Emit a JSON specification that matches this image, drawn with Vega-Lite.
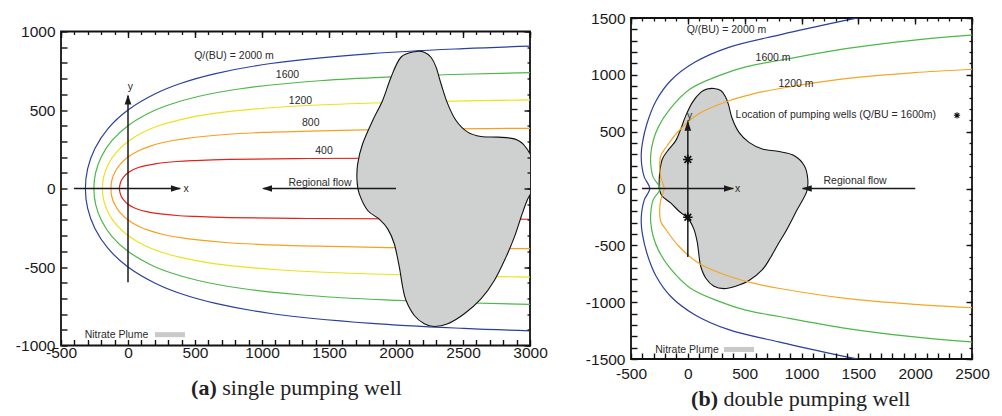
{
  "$schema": "https://vega.github.io/schema/vega-lite/v6.json",
  "background": "white",
  "padding": {"left": 14, "top": 10, "right": 0, "bottom": 0},
  "config": {"view": {"stroke": "#111", "strokeWidth": 1.8}, "axis": {"grid": false, "title": null}},
  "datasets": {
    "curvesA": [
      {"q":"2000","t":-2.9,"x":3790,"y":-923},{"q":"2000","t":-2.85,"x":3024,"y":-907},{"q":"2000","t":-2.8,"x":2507,"y":-891},{"q":"2000","t":-2.7,"x":1818,"y":-859},{"q":"2000","t":-2.5,"x":1065,"y":-796},{"q":"2000","t":-2.3,"x":654,"y":-732},{"q":"2000","t":-2.1,"x":391,"y":-669},{"q":"2000","t":-1.9,"x":207,"y":-605},{"q":"2000","t":-1.57,"x":0,"y":-500},{"q":"2000","t":-1.2,"x":-149,"y":-382},{"q":"2000","t":-0.8,"x":-247,"y":-255},{"q":"2000","t":-0.4,"x":-301,"y":-127},{"q":"2000","t":0,"x":-318,"y":0},{"q":"2000","t":0.4,"x":-301,"y":127},{"q":"2000","t":0.8,"x":-247,"y":255},{"q":"2000","t":1.2,"x":-149,"y":382},{"q":"2000","t":1.57,"x":0,"y":500},{"q":"2000","t":1.9,"x":207,"y":605},{"q":"2000","t":2.1,"x":391,"y":669},{"q":"2000","t":2.3,"x":654,"y":732},{"q":"2000","t":2.5,"x":1065,"y":796},{"q":"2000","t":2.7,"x":1818,"y":859},{"q":"2000","t":2.8,"x":2507,"y":891},{"q":"2000","t":2.85,"x":3024,"y":907},{"q":"2000","t":2.9,"x":3790,"y":923},
      {"q":"1600","t":-2.95,"x":3873,"y":-751},{"q":"1600","t":-2.9,"x":3032,"y":-739},{"q":"1600","t":-2.85,"x":2419,"y":-726},{"q":"1600","t":-2.8,"x":2006,"y":-713},{"q":"1600","t":-2.7,"x":1454,"y":-688},{"q":"1600","t":-2.5,"x":852,"y":-637},{"q":"1600","t":-2.3,"x":523,"y":-586},{"q":"1600","t":-2.1,"x":313,"y":-535},{"q":"1600","t":-1.9,"x":165,"y":-484},{"q":"1600","t":-1.57,"x":0,"y":-400},{"q":"1600","t":-1.2,"x":-119,"y":-306},{"q":"1600","t":-0.8,"x":-198,"y":-204},{"q":"1600","t":-0.4,"x":-241,"y":-102},{"q":"1600","t":0,"x":-255,"y":0},{"q":"1600","t":0.4,"x":-241,"y":102},{"q":"1600","t":0.8,"x":-198,"y":204},{"q":"1600","t":1.2,"x":-119,"y":306},{"q":"1600","t":1.57,"x":0,"y":400},{"q":"1600","t":1.9,"x":165,"y":484},{"q":"1600","t":2.1,"x":313,"y":535},{"q":"1600","t":2.3,"x":523,"y":586},{"q":"1600","t":2.5,"x":852,"y":637},{"q":"1600","t":2.7,"x":1454,"y":688},{"q":"1600","t":2.8,"x":2006,"y":713},{"q":"1600","t":2.85,"x":2419,"y":726},{"q":"1600","t":2.9,"x":3032,"y":739},{"q":"1600","t":2.95,"x":3873,"y":751},
      {"q":"1200","t":-3.0,"x":4020,"y":-573},{"q":"1200","t":-2.95,"x":2905,"y":-563},{"q":"1200","t":-2.9,"x":2274,"y":-554},{"q":"1200","t":-2.8,"x":1504,"y":-535},{"q":"1200","t":-2.7,"x":1091,"y":-516},{"q":"1200","t":-2.5,"x":639,"y":-478},{"q":"1200","t":-2.3,"x":393,"y":-439},{"q":"1200","t":-2.1,"x":235,"y":-401},{"q":"1200","t":-1.9,"x":124,"y":-363},{"q":"1200","t":-1.57,"x":0,"y":-300},{"q":"1200","t":-1.2,"x":-89,"y":-229},{"q":"1200","t":-0.8,"x":-148,"y":-153},{"q":"1200","t":-0.4,"x":-181,"y":-76},{"q":"1200","t":0,"x":-191,"y":0},{"q":"1200","t":0.4,"x":-181,"y":76},{"q":"1200","t":0.8,"x":-148,"y":153},{"q":"1200","t":1.2,"x":-89,"y":229},{"q":"1200","t":1.57,"x":0,"y":300},{"q":"1200","t":1.9,"x":124,"y":363},{"q":"1200","t":2.1,"x":235,"y":401},{"q":"1200","t":2.3,"x":393,"y":439},{"q":"1200","t":2.5,"x":639,"y":478},{"q":"1200","t":2.7,"x":1091,"y":516},{"q":"1200","t":2.8,"x":1504,"y":535},{"q":"1200","t":2.9,"x":2274,"y":554},{"q":"1200","t":2.95,"x":2905,"y":563},{"q":"1200","t":3.0,"x":4020,"y":573},
      {"q":"800","t":-3.05,"x":4228,"y":-388},{"q":"800","t":-3.0,"x":2680,"y":-382},{"q":"800","t":-2.95,"x":1937,"y":-376},{"q":"800","t":-2.9,"x":1516,"y":-369},{"q":"800","t":-2.8,"x":1003,"y":-357},{"q":"800","t":-2.7,"x":727,"y":-344},{"q":"800","t":-2.5,"x":426,"y":-318},{"q":"800","t":-2.3,"x":262,"y":-293},{"q":"800","t":-2.1,"x":156,"y":-267},{"q":"800","t":-1.9,"x":83,"y":-242},{"q":"800","t":-1.57,"x":0,"y":-200},{"q":"800","t":-1.2,"x":-59,"y":-153},{"q":"800","t":-0.8,"x":-99,"y":-102},{"q":"800","t":-0.4,"x":-121,"y":-51},{"q":"800","t":0,"x":-127,"y":0},{"q":"800","t":0.4,"x":-121,"y":51},{"q":"800","t":0.8,"x":-99,"y":102},{"q":"800","t":1.2,"x":-59,"y":153},{"q":"800","t":1.57,"x":0,"y":200},{"q":"800","t":1.9,"x":83,"y":242},{"q":"800","t":2.1,"x":156,"y":267},{"q":"800","t":2.3,"x":262,"y":293},{"q":"800","t":2.5,"x":426,"y":318},{"q":"800","t":2.7,"x":727,"y":344},{"q":"800","t":2.8,"x":1003,"y":357},{"q":"800","t":2.9,"x":1516,"y":369},{"q":"800","t":2.95,"x":1937,"y":376},{"q":"800","t":3.0,"x":2680,"y":382},{"q":"800","t":3.05,"x":4228,"y":388},
      {"q":"400","t":-3.08,"x":3179,"y":-196},{"q":"400","t":-3.05,"x":2114,"y":-194},{"q":"400","t":-3.0,"x":1340,"y":-191},{"q":"400","t":-2.9,"x":758,"y":-185},{"q":"400","t":-2.8,"x":501,"y":-178},{"q":"400","t":-2.7,"x":364,"y":-172},{"q":"400","t":-2.5,"x":213,"y":-159},{"q":"400","t":-2.3,"x":131,"y":-146},{"q":"400","t":-2.1,"x":78,"y":-134},{"q":"400","t":-1.9,"x":41,"y":-121},{"q":"400","t":-1.57,"x":0,"y":-100},{"q":"400","t":-1.2,"x":-30,"y":-76},{"q":"400","t":-0.8,"x":-50,"y":-51},{"q":"400","t":-0.4,"x":-60,"y":-25},{"q":"400","t":0,"x":-64,"y":0},{"q":"400","t":0.4,"x":-60,"y":25},{"q":"400","t":0.8,"x":-50,"y":51},{"q":"400","t":1.2,"x":-30,"y":76},{"q":"400","t":1.57,"x":0,"y":100},{"q":"400","t":1.9,"x":41,"y":121},{"q":"400","t":2.1,"x":78,"y":134},{"q":"400","t":2.3,"x":131,"y":146},{"q":"400","t":2.5,"x":213,"y":159},{"q":"400","t":2.7,"x":364,"y":172},{"q":"400","t":2.8,"x":501,"y":178},{"q":"400","t":2.9,"x":758,"y":185},{"q":"400","t":3.0,"x":1340,"y":191},{"q":"400","t":3.05,"x":2114,"y":194},{"q":"400","t":3.08,"x":3179,"y":196}
    ],
    "curvesB": [
      {"q":"2000","t":-14,"x":2600,"y":-1650},{"q":"2000","t":-13,"x":2000,"y":-1580},{"q":"2000","t":-12,"x":1465,"y":-1495},{"q":"2000","t":-11,"x":1000,"y":-1395},{"q":"2000","t":-10,"x":800,"y":-1350},{"q":"2000","t":-9,"x":360,"y":-1242},{"q":"2000","t":-8,"x":60,"y":-1110},{"q":"2000","t":-7,"x":-150,"y":-950},{"q":"2000","t":-6,"x":-280,"y":-770},{"q":"2000","t":-5,"x":-360,"y":-570},{"q":"2000","t":-4,"x":-400,"y":-400},{"q":"2000","t":-3,"x":-410,"y":-300},{"q":"2000","t":-2,"x":-405,"y":-200},{"q":"2000","t":-1,"x":-383,"y":-100},{"q":"2000","t":0,"x":-335,"y":0},{"q":"2000","t":1,"x":-383,"y":100},{"q":"2000","t":2,"x":-405,"y":200},{"q":"2000","t":3,"x":-410,"y":300},{"q":"2000","t":4,"x":-400,"y":400},{"q":"2000","t":5,"x":-360,"y":570},{"q":"2000","t":6,"x":-280,"y":770},{"q":"2000","t":7,"x":-150,"y":950},{"q":"2000","t":8,"x":60,"y":1110},{"q":"2000","t":9,"x":360,"y":1242},{"q":"2000","t":10,"x":800,"y":1350},{"q":"2000","t":11,"x":1000,"y":1395},{"q":"2000","t":12,"x":1465,"y":1495},{"q":"2000","t":13,"x":2000,"y":1580},{"q":"2000","t":14,"x":2600,"y":1650},
      {"q":"1600","t":-14,"x":2800,"y":-1370},{"q":"1600","t":-13,"x":2491,"y":-1350},{"q":"1600","t":-12,"x":1993,"y":-1306},{"q":"1600","t":-11,"x":1406,"y":-1232},{"q":"1600","t":-10,"x":802,"y":-1126},{"q":"1600","t":-9,"x":509,"y":-1070},{"q":"1600","t":-8,"x":280,"y":-995},{"q":"1600","t":-7,"x":20,"y":-875},{"q":"1600","t":-6,"x":-165,"y":-690},{"q":"1600","t":-5,"x":-260,"y":-540},{"q":"1600","t":-4,"x":-305,"y":-420},{"q":"1600","t":-3,"x":-326,"y":-300},{"q":"1600","t":-2,"x":-325,"y":-200},{"q":"1600","t":-1,"x":-305,"y":-100},{"q":"1600","t":0,"x":-245,"y":0},{"q":"1600","t":1,"x":-305,"y":100},{"q":"1600","t":2,"x":-325,"y":200},{"q":"1600","t":3,"x":-326,"y":300},{"q":"1600","t":4,"x":-305,"y":420},{"q":"1600","t":5,"x":-260,"y":540},{"q":"1600","t":6,"x":-165,"y":690},{"q":"1600","t":7,"x":20,"y":875},{"q":"1600","t":8,"x":280,"y":995},{"q":"1600","t":9,"x":509,"y":1070},{"q":"1600","t":10,"x":802,"y":1126},{"q":"1600","t":11,"x":1406,"y":1232},{"q":"1600","t":12,"x":1993,"y":1306},{"q":"1600","t":13,"x":2491,"y":1350},{"q":"1600","t":14,"x":2800,"y":1370},
      {"q":"1200","t":-13,"x":2800,"y":-1062},{"q":"1200","t":-12,"x":2491,"y":-1048},{"q":"1200","t":-11,"x":1993,"y":-1019},{"q":"1200","t":-10,"x":1406,"y":-969},{"q":"1200","t":-9,"x":810,"y":-880},{"q":"1200","t":-8,"x":568,"y":-831},{"q":"1200","t":-7,"x":362,"y":-772},{"q":"1200","t":-6,"x":100,"y":-660},{"q":"1200","t":-5,"x":-77,"y":-510},{"q":"1200","t":-4,"x":-190,"y":-365},{"q":"1200","t":-3,"x":-238,"y":-290},{"q":"1200","t":-2,"x":-248,"y":-200},{"q":"1200","t":-1,"x":-238,"y":-100},{"q":"1200","t":0,"x":-209,"y":0},{"q":"1200","t":1,"x":-238,"y":100},{"q":"1200","t":2,"x":-248,"y":200},{"q":"1200","t":3,"x":-238,"y":290},{"q":"1200","t":4,"x":-190,"y":365},{"q":"1200","t":5,"x":-77,"y":510},{"q":"1200","t":6,"x":100,"y":660},{"q":"1200","t":7,"x":362,"y":772},{"q":"1200","t":8,"x":568,"y":831},{"q":"1200","t":9,"x":810,"y":880},{"q":"1200","t":10,"x":1406,"y":969},{"q":"1200","t":11,"x":1993,"y":1019},{"q":"1200","t":12,"x":2491,"y":1048},{"q":"1200","t":13,"x":2800,"y":1062}
    ],
    "plumeA": [
      {"i":1,"x":2149,"y":873},{"i":2,"x":2037,"y":836},{"i":3,"x":1963,"y":709},{"i":4,"x":1900,"y":561},{"i":5,"x":1826,"y":433},{"i":6,"x":1751,"y":285},{"i":7,"x":1714,"y":157},{"i":8,"x":1709,"y":51},{"i":9,"x":1726,"y":-34},{"i":10,"x":1789,"y":-140},{"i":11,"x":1875,"y":-195},{"i":12,"x":1938,"y":-257},{"i":13,"x":1987,"y":-352},{"i":14,"x":2025,"y":-501},{"i":15,"x":2050,"y":-629},{"i":16,"x":2075,"y":-713},{"i":17,"x":2137,"y":-809},{"i":18,"x":2211,"y":-862},{"i":19,"x":2286,"y":-879},{"i":20,"x":2386,"y":-862},{"i":21,"x":2510,"y":-798},{"i":22,"x":2634,"y":-703},{"i":23,"x":2734,"y":-586},{"i":24,"x":2821,"y":-437},{"i":25,"x":2883,"y":-310},{"i":26,"x":2933,"y":-183},{"i":27,"x":2978,"y":-76},{"i":28,"x":3035,"y":30},{"i":29,"x":3025,"y":170},{"i":30,"x":2958,"y":274},{"i":31,"x":2883,"y":316},{"i":32,"x":2759,"y":327},{"i":33,"x":2634,"y":331},{"i":34,"x":2535,"y":359},{"i":35,"x":2448,"y":433},{"i":36,"x":2386,"y":539},{"i":37,"x":2336,"y":667},{"i":38,"x":2299,"y":773},{"i":39,"x":2261,"y":836},{"i":40,"x":2211,"y":868}
    ],
    "plumeB": [
      {"i":1,"x":230,"y":880},{"i":2,"x":290,"y":862},{"i":3,"x":330,"y":810},{"i":4,"x":357,"y":740},{"i":5,"x":392,"y":611},{"i":6,"x":450,"y":494},{"i":7,"x":538,"y":406},{"i":8,"x":656,"y":348},{"i":9,"x":802,"y":325},{"i":10,"x":937,"y":289},{"i":11,"x":1025,"y":201},{"i":12,"x":1055,"y":84},{"i":13,"x":1045,"y":-30},{"i":14,"x":960,"y":-190},{"i":15,"x":870,"y":-362},{"i":16,"x":800,"y":-480},{"i":17,"x":732,"y":-600},{"i":18,"x":656,"y":-714},{"i":19,"x":538,"y":-810},{"i":20,"x":421,"y":-860},{"i":21,"x":318,"y":-881},{"i":22,"x":230,"y":-860},{"i":23,"x":157,"y":-787},{"i":24,"x":113,"y":-684},{"i":25,"x":99,"y":-596},{"i":26,"x":84,"y":-479},{"i":27,"x":55,"y":-362},{"i":28,"x":11,"y":-274},{"i":29,"x":-18,"y":-245},{"i":30,"x":-77,"y":-200},{"i":31,"x":-151,"y":-127},{"i":32,"x":-224,"y":-69},{"i":33,"x":-250,"y":-10},{"i":34,"x":-253,"y":40},{"i":35,"x":-247,"y":143},{"i":36,"x":-224,"y":260},{"i":37,"x":-165,"y":348},{"i":38,"x":-106,"y":421},{"i":39,"x":-62,"y":524},{"i":40,"x":-18,"y":641},{"i":41,"x":40,"y":758},{"i":42,"x":113,"y":846},{"i":43,"x":170,"y":875}
    ],
    "arrowsA": [{"x":-403,"x2":390,"y":0,"y2":0},{"x":0,"x2":0,"y":-597,"y2":590},{"x":2000,"x2":1010,"y":0,"y2":0}],
    "headsA": [{"dir":"r","x":395,"y":0},{"dir":"u","x":0,"y":599},{"dir":"l","x":1000,"y":0}],
    "arrowsB": [{"x":-403,"x2":400,"y":0,"y2":0},{"x":0,"x2":0,"y":-603,"y2":590},{"x":2001,"x2":1010,"y":0,"y2":0}],
    "headsB": [{"dir":"r","x":406,"y":0},{"dir":"u","x":0,"y":597},{"dir":"l","x":1002,"y":0}],
    "wellsB": [{"dir":"well","x":0,"y":255},{"dir":"well","x":0,"y":-253},{"dir":"key","x":2368,"y":644}],
    "textA": [
      {"label":"Q/(BU) = 2000 m","x":791,"y":847},{"label":"1600","x":1190,"y":720},{"label":"1200","x":1287,"y":559},{"label":"800","x":1364,"y":420},{"label":"400","x":1463,"y":240},{"label":"Regional flow","x":1433,"y":34},{"label":"x","x":433,"y":-3},{"label":"y","x":17,"y":645},{"label":"Nitrate Plume","x":-86,"y":-934}
    ],
    "textB": [
      {"label":"Q/(BU) = 2000 m","x":340,"y":1398},{"label":"1600 m","x":750,"y":1145},{"label":"1200 m","x":952,"y":923},{"label":"Location of pumping wells (Q/BU = 1600m)","x":1302,"y":644},{"label":"Regional flow","x":1471,"y":69},{"label":"x","x":439,"y":-7},{"label":"y","x":16,"y":642},{"label":"Nitrate Plume","x":-7,"y":-1417}
    ],
    "swatchA": [{"x":201,"x2":425,"y":-915,"y2":-947}],
    "swatchB": [{"x":318,"x2":582,"y":-1394,"y2":-1438}],
    "capA": [{"part":"bold","label":"(a)","x":662,"y":-1318},{"part":"plain","label":"single pumping well","x":662,"y":-1318}],
    "capB": [{"part":"bold","label":"(b)","x":265,"y":-1913},{"part":"plain","label":"double pumping well","x":265,"y":-1913}]
  },
  "spacing": 101,
  "bounds": "flush",
  "center": true,
  "resolve": {"scale": {"x": "independent", "y": "independent", "color": "independent", "shape": "independent", "size": "independent", "strokeWidth": "independent"}},
  "hconcat": [
    {
      "width": 469,
      "height": 314,
      "resolve": {"axis": {"x": "independent", "y": "independent"}},
      "layer": [
        {
          "data": {"name": "curvesA"},
          "mark": {"type": "line", "clip": true, "strokeWidth": 1.2, "interpolate": "catmull-rom"},
          "encoding": {
            "x": {"field": "x", "type": "quantitative", "scale": {"domain": [-500, 3000], "nice": false, "zero": false},
              "axis": {"orient": "bottom", "values": [-500,-400,-300,-200,-100,0,100,200,300,400,500,600,700,800,900,1000,1100,1200,1300,1400,1500,1600,1700,1800,1900,2000,2100,2200,2300,2400,2500,2600,2700,2800,2900,3000], "offset": -6, "ticks": true, "tickSize": 6, "tickWidth": 1.4, "tickColor": "#111", "domain": false, "labelFont": "Liberation Sans", "labelFontSize": 15.5, "labelColor": "#1a1a1a", "labelPadding": 0, "labelFlush": false, "labelOverlap": false, "labelExpr": "datum.value % 500 === 0 ? '' + datum.value : ''", "zindex": 1,
                "encoding": {"ticks": {"update": {"y": {"signal": "datum.value % 500 === 0 ? 0 : 3"}}}}}},
            "y": {"field": "y", "type": "quantitative", "scale": {"domain": [-1000, 1000], "nice": false, "zero": false},
              "axis": {"orient": "left", "values": [-1000,-900,-800,-700,-600,-500,-400,-300,-200,-100,0,100,200,300,400,500,600,700,800,900,1000], "offset": -6, "ticks": true, "tickSize": 6, "tickWidth": 1.4, "tickColor": "#111", "domain": false, "labelFont": "Liberation Sans", "labelFontSize": 15.5, "labelColor": "#1a1a1a", "labelPadding": 6, "labelFlush": false, "labelOverlap": false, "labelExpr": "datum.value % 500 === 0 ? '' + datum.value : ''", "zindex": 1,
                "encoding": {"ticks": {"update": {"x": {"signal": "datum.value % 500 === 0 ? 0 : -3"}}}}}},
            "color": {"field": "q", "type": "nominal", "scale": {"domain": ["2000","1600","1200","800","400"], "range": ["#2b3f9e","#4db848","#ece21c","#f6a01c","#e2231a"]}, "legend": null},
            "order": {"field": "t", "type": "quantitative"}
          }
        },
        {
          "data": {"name": "plumeA"},
          "mark": {"type": "line", "clip": true, "interpolate": "cardinal-closed", "fill": "#cfd0d0", "stroke": "#111", "strokeWidth": 1.1},
          "encoding": {
            "x": {"field": "x", "type": "quantitative", "scale": {"domain": [-500, 3000], "nice": false, "zero": false},
              "axis": {"orient": "top", "values": [-500,0,500,1000,1500,2000,2500,3000], "labels": true, "labelExpr": "''", "labelOpacity": 0, "labelFontSize": 1, "domain": false, "ticks": true, "offset": -6, "tickSize": 6, "tickWidth": 1.4, "tickColor": "#111", "zindex": 1}},
            "y": {"field": "y", "type": "quantitative", "scale": {"domain": [-1000, 1000], "nice": false, "zero": false},
              "axis": {"orient": "right", "values": [-1000,-500,0,500,1000], "labels": true, "labelExpr": "''", "labelOpacity": 0, "labelFontSize": 1, "domain": false, "ticks": true, "offset": -6, "tickSize": 6, "tickWidth": 1.4, "tickColor": "#111", "zindex": 1}},
            "order": {"field": "i", "type": "quantitative"}
          }
        },
        {
          "data": {"name": "arrowsA"},
          "mark": {"type": "rule", "color": "#1a1a1a", "strokeWidth": 1.5},
          "encoding": {
            "x": {"field": "x", "type": "quantitative", "scale": {"domain": [-500, 3000], "nice": false, "zero": false}, "axis": null},
            "x2": {"field": "x2"},
            "y": {"field": "y", "type": "quantitative", "scale": {"domain": [-1000, 1000], "nice": false, "zero": false}, "axis": null},
            "y2": {"field": "y2"}
          }
        },
        {
          "data": {"name": "headsA"},
          "mark": {"type": "point", "filled": true, "color": "#1a1a1a", "size": 100, "opacity": 1},
          "encoding": {
            "x": {"field": "x", "type": "quantitative", "scale": {"domain": [-500, 3000], "nice": false, "zero": false},
              "axis": {"orient": "top", "values": [-500,-400,-300,-200,-100,0,100,200,300,400,500,600,700,800,900,1000,1100,1200,1300,1400,1500,1600,1700,1800,1900,2000,2100,2200,2300,2400,2500,2600,2700,2800,2900,3000], "labels": true, "labelExpr": "''", "labelOpacity": 0, "labelFontSize": 1, "domain": false, "ticks": true, "offset": -3, "tickSize": 3, "tickWidth": 1.3, "tickColor": "#111", "zindex": 1}},
            "y": {"field": "y", "type": "quantitative", "scale": {"domain": [-1000, 1000], "nice": false, "zero": false},
              "axis": {"orient": "right", "values": [-1000,-900,-800,-700,-600,-500,-400,-300,-200,-100,0,100,200,300,400,500,600,700,800,900,1000], "labels": true, "labelExpr": "''", "labelOpacity": 0, "labelFontSize": 1, "domain": false, "ticks": true, "offset": -3, "tickSize": 3, "tickWidth": 1.3, "tickColor": "#111", "zindex": 1}},
            "shape": {"field": "dir", "type": "nominal", "scale": {"domain": ["r","l","u"], "range": ["M0,0L-2,-0.67L-2,0.67Z","M0,0L2,-0.67L2,0.67Z","M0,0L-0.67,2L0.67,2Z"]}, "legend": null}
          }
        },
        {
          "data": {"name": "textA"},
          "mark": {"type": "text", "font": "Liberation Sans", "fontSize": 10.5, "color": "#2a2a2a", "align": "center", "baseline": "middle"},
          "encoding": {
            "x": {"field": "x", "type": "quantitative", "scale": {"domain": [-500, 3000], "nice": false, "zero": false}, "axis": null},
            "y": {"field": "y", "type": "quantitative", "scale": {"domain": [-1000, 1000], "nice": false, "zero": false}, "axis": null},
            "text": {"field": "label"}
          }
        },
        {
          "data": {"name": "swatchA"},
          "mark": {"type": "rect", "color": "#c9c9c9"},
          "encoding": {
            "x": {"field": "x", "type": "quantitative", "scale": {"domain": [-500, 3000], "nice": false, "zero": false}, "axis": null},
            "x2": {"field": "x2"},
            "y": {"field": "y", "type": "quantitative", "scale": {"domain": [-1000, 1000], "nice": false, "zero": false}, "axis": null},
            "y2": {"field": "y2"}
          }
        },
        {
          "data": {"name": "capA"},
          "transform": [{"filter": "datum.part === 'bold'"}],
          "mark": {"type": "text", "font": "Liberation Serif", "fontSize": 22, "fontWeight": "bold", "color": "#222", "align": "right", "baseline": "alphabetic"},
          "encoding": {
            "x": {"field": "x", "type": "quantitative", "scale": {"domain": [-500, 3000], "nice": false, "zero": false}, "axis": null},
            "y": {"field": "y", "type": "quantitative", "scale": {"domain": [-1000, 1000], "nice": false, "zero": false}, "axis": null},
            "text": {"field": "label"}
          }
        },
        {
          "data": {"name": "capA"},
          "transform": [{"filter": "datum.part === 'plain'"}],
          "mark": {"type": "text", "font": "Liberation Serif", "fontSize": 22, "color": "#222", "align": "left", "baseline": "alphabetic", "dx": 5.5},
          "encoding": {
            "x": {"field": "x", "type": "quantitative", "scale": {"domain": [-500, 3000], "nice": false, "zero": false}, "axis": null},
            "y": {"field": "y", "type": "quantitative", "scale": {"domain": [-1000, 1000], "nice": false, "zero": false}, "axis": null},
            "text": {"field": "label"}
          }
        }
      ]
    },
    {
      "width": 341,
      "height": 341,
      "resolve": {"axis": {"x": "independent", "y": "independent"}},
      "layer": [
        {
          "data": {"name": "plumeB"},
          "mark": {"type": "line", "clip": true, "interpolate": "cardinal-closed", "fill": "#cfd0d0", "stroke": "#111", "strokeWidth": 1.1},
          "encoding": {
            "x": {"field": "x", "type": "quantitative", "scale": {"domain": [-500, 2500], "nice": false, "zero": false},
              "axis": {"orient": "bottom", "values": [-500,-400,-300,-200,-100,0,100,200,300,400,500,600,700,800,900,1000,1100,1200,1300,1400,1500,1600,1700,1800,1900,2000,2100,2200,2300,2400,2500], "offset": -6, "ticks": true, "tickSize": 6, "tickWidth": 1.4, "tickColor": "#111", "domain": false, "labelFont": "Liberation Sans", "labelFontSize": 15.5, "labelColor": "#1a1a1a", "labelPadding": 7, "labelFlush": false, "labelOverlap": false, "labelExpr": "datum.value % 500 === 0 ? '' + datum.value : ''", "zindex": 1,
                "encoding": {"ticks": {"update": {"y": {"signal": "datum.value % 500 === 0 ? 0 : 3"}}}}}},
            "y": {"field": "y", "type": "quantitative", "scale": {"domain": [-1500, 1500], "nice": false, "zero": false},
              "axis": {"orient": "left", "values": [-1500,-1400,-1300,-1200,-1100,-1000,-900,-800,-700,-600,-500,-400,-300,-200,-100,0,100,200,300,400,500,600,700,800,900,1000,1100,1200,1300,1400,1500], "offset": -6, "ticks": true, "tickSize": 6, "tickWidth": 1.4, "tickColor": "#111", "domain": false, "labelFont": "Liberation Sans", "labelFontSize": 15.5, "labelColor": "#1a1a1a", "labelPadding": 6, "labelFlush": false, "labelOverlap": false, "labelExpr": "datum.value % 500 === 0 ? '' + datum.value : ''", "zindex": 1,
                "encoding": {"ticks": {"update": {"x": {"signal": "datum.value % 500 === 0 ? 0 : -3"}}}}}},
            "order": {"field": "i", "type": "quantitative"}
          }
        },
        {
          "data": {"name": "curvesB"},
          "mark": {"type": "line", "clip": true, "strokeWidth": 1.2, "interpolate": "catmull-rom"},
          "encoding": {
            "x": {"field": "x", "type": "quantitative", "scale": {"domain": [-500, 2500], "nice": false, "zero": false},
              "axis": {"orient": "top", "values": [-500,0,500,1000,1500,2000,2500], "labels": true, "labelExpr": "''", "labelOpacity": 0, "labelFontSize": 1, "domain": false, "ticks": true, "offset": -6, "tickSize": 6, "tickWidth": 1.4, "tickColor": "#111", "zindex": 1}},
            "y": {"field": "y", "type": "quantitative", "scale": {"domain": [-1500, 1500], "nice": false, "zero": false},
              "axis": {"orient": "right", "values": [-1500,-1000,-500,0,500,1000,1500], "labels": true, "labelExpr": "''", "labelOpacity": 0, "labelFontSize": 1, "domain": false, "ticks": true, "offset": -6, "tickSize": 6, "tickWidth": 1.4, "tickColor": "#111", "zindex": 1}},
            "color": {"field": "q", "type": "nominal", "scale": {"domain": ["2000","1600","1200"], "range": ["#2b3f9e","#4db848","#f6a623"]}, "legend": null},
            "order": {"field": "t", "type": "quantitative"}
          }
        },
        {
          "data": {"name": "arrowsB"},
          "mark": {"type": "rule", "color": "#1a1a1a", "strokeWidth": 1.5},
          "encoding": {
            "x": {"field": "x", "type": "quantitative", "scale": {"domain": [-500, 2500], "nice": false, "zero": false}, "axis": null},
            "x2": {"field": "x2"},
            "y": {"field": "y", "type": "quantitative", "scale": {"domain": [-1500, 1500], "nice": false, "zero": false}, "axis": null},
            "y2": {"field": "y2"}
          }
        },
        {
          "data": {"name": "headsB"},
          "mark": {"type": "point", "filled": true, "color": "#1a1a1a", "size": 100, "opacity": 1},
          "encoding": {
            "x": {"field": "x", "type": "quantitative", "scale": {"domain": [-500, 2500], "nice": false, "zero": false},
              "axis": {"orient": "top", "values": [-500,-400,-300,-200,-100,0,100,200,300,400,500,600,700,800,900,1000,1100,1200,1300,1400,1500,1600,1700,1800,1900,2000,2100,2200,2300,2400,2500], "labels": true, "labelExpr": "''", "labelOpacity": 0, "labelFontSize": 1, "domain": false, "ticks": true, "offset": -3, "tickSize": 3, "tickWidth": 1.3, "tickColor": "#111", "zindex": 1}},
            "y": {"field": "y", "type": "quantitative", "scale": {"domain": [-1500, 1500], "nice": false, "zero": false},
              "axis": {"orient": "right", "values": [-1500,-1400,-1300,-1200,-1100,-1000,-900,-800,-700,-600,-500,-400,-300,-200,-100,0,100,200,300,400,500,600,700,800,900,1000,1100,1200,1300,1400,1500], "labels": true, "labelExpr": "''", "labelOpacity": 0, "labelFontSize": 1, "domain": false, "ticks": true, "offset": -3, "tickSize": 3, "tickWidth": 1.3, "tickColor": "#111", "zindex": 1}},
            "shape": {"field": "dir", "type": "nominal", "scale": {"domain": ["r","l","u","well","key"], "range": ["M0,0L-2,-0.67L-2,0.67Z","M0,0L2,-0.67L2,0.67Z","M0,0L-0.67,2L0.67,2Z","M-1,0L1,0M0,-1L0,1M-0.71,-0.71L0.71,0.71M-0.71,0.71L0.71,-0.71","M-1,0L1,0M0,-1L0,1M-0.71,-0.71L0.71,0.71M-0.71,0.71L0.71,-0.71"]}, "legend": null}
          }
        },
        {
          "data": {"name": "textB"},
          "mark": {"type": "text", "font": "Liberation Sans", "fontSize": 10.5, "color": "#2a2a2a", "align": "center", "baseline": "middle"},
          "encoding": {
            "x": {"field": "x", "type": "quantitative", "scale": {"domain": [-500, 2500], "nice": false, "zero": false}, "axis": null},
            "y": {"field": "y", "type": "quantitative", "scale": {"domain": [-1500, 1500], "nice": false, "zero": false}, "axis": null},
            "text": {"field": "label"}
          }
        },
        {
          "data": {"name": "wellsB"},
          "mark": {"type": "point", "filled": false, "color": "#111", "opacity": 1},
          "encoding": {
            "x": {"field": "x", "type": "quantitative", "scale": {"domain": [-500, 2500], "nice": false, "zero": false}, "axis": null},
            "y": {"field": "y", "type": "quantitative", "scale": {"domain": [-1500, 1500], "nice": false, "zero": false}, "axis": null},
            "shape": {"field": "dir", "type": "nominal", "scale": {"domain": ["r","l","u","well","key"], "range": ["M0,0L-2,-0.67L-2,0.67Z","M0,0L2,-0.67L2,0.67Z","M0,0L-0.67,2L0.67,2Z","M-1,0L1,0M0,-1L0,1M-0.71,-0.71L0.71,0.71M-0.71,0.71L0.71,-0.71","M-1,0L1,0M0,-1L0,1M-0.71,-0.71L0.71,0.71M-0.71,0.71L0.71,-0.71"]}, "legend": null},
            "size": {"field": "dir", "type": "nominal", "scale": {"domain": ["well","key"], "range": [90, 40]}, "legend": null},
            "strokeWidth": {"field": "dir", "type": "nominal", "scale": {"domain": ["well","key"], "range": [1.7, 1.1]}, "legend": null}
          }
        },
        {
          "data": {"name": "swatchB"},
          "mark": {"type": "rect", "color": "#c9c9c9"},
          "encoding": {
            "x": {"field": "x", "type": "quantitative", "scale": {"domain": [-500, 2500], "nice": false, "zero": false}, "axis": null},
            "x2": {"field": "x2"},
            "y": {"field": "y", "type": "quantitative", "scale": {"domain": [-1500, 1500], "nice": false, "zero": false}, "axis": null},
            "y2": {"field": "y2"}
          }
        },
        {
          "data": {"name": "capB"},
          "transform": [{"filter": "datum.part === 'bold'"}],
          "mark": {"type": "text", "font": "Liberation Serif", "fontSize": 22, "fontWeight": "bold", "color": "#222", "align": "right", "baseline": "alphabetic"},
          "encoding": {
            "x": {"field": "x", "type": "quantitative", "scale": {"domain": [-500, 2500], "nice": false, "zero": false}, "axis": null},
            "y": {"field": "y", "type": "quantitative", "scale": {"domain": [-1500, 1500], "nice": false, "zero": false}, "axis": null},
            "text": {"field": "label"}
          }
        },
        {
          "data": {"name": "capB"},
          "transform": [{"filter": "datum.part === 'plain'"}],
          "mark": {"type": "text", "font": "Liberation Serif", "fontSize": 22, "color": "#222", "align": "left", "baseline": "alphabetic", "dx": 5.5},
          "encoding": {
            "x": {"field": "x", "type": "quantitative", "scale": {"domain": [-500, 2500], "nice": false, "zero": false}, "axis": null},
            "y": {"field": "y", "type": "quantitative", "scale": {"domain": [-1500, 1500], "nice": false, "zero": false}, "axis": null},
            "text": {"field": "label"}
          }
        }
      ]
    }
  ]
}
